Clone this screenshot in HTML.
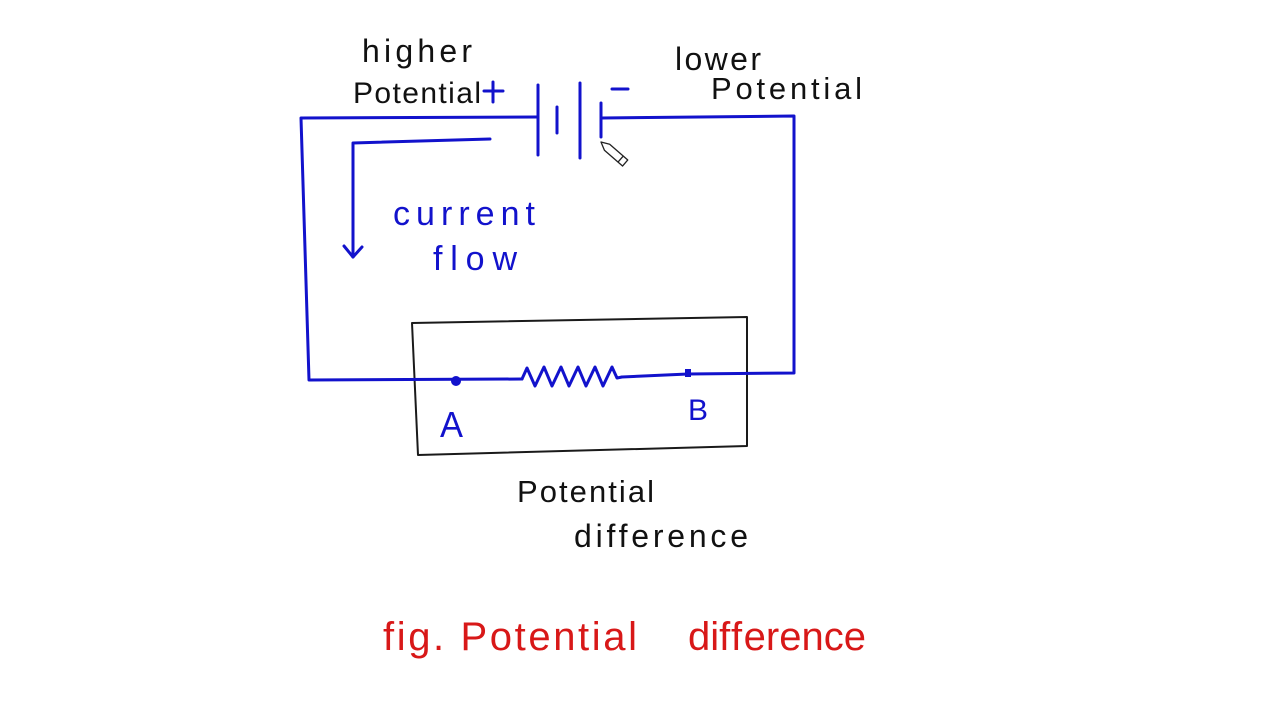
<!DOCTYPE html>
<html>
<head>
<meta charset="utf-8">
<style>
  html, body { margin: 0; padding: 0; background: #ffffff; }
  body { width: 1280px; height: 720px; overflow: hidden; }
  svg { display: block; }
  text { font-family: "Liberation Sans", "DejaVu Sans", sans-serif; font-variant-ligatures: none; font-feature-settings: "liga" 0, "clig" 0; }
</style>
</head>
<body>
<svg width="1280" height="720" viewBox="0 0 1280 720" xmlns="http://www.w3.org/2000/svg">
  <rect x="0" y="0" width="1280" height="720" fill="#ffffff"/>

  <!-- Box around resistor -->
  <polygon points="412,323 747,317 747,446 418,455" fill="none" stroke="#1a1a1a" stroke-width="2" stroke-linejoin="round"/>

  <!-- Circuit wires -->
  <g fill="none" stroke="#1212cc" stroke-width="3" stroke-linecap="round" stroke-linejoin="round">
    <polyline points="538,117 301,118 309,380 522,379"/>
    <path d="M522,379 L527,368 L535,386 L544,367 L552,386 L561,367 L569,386 L578,367 L586,386 L595,367 L603,386 L612,367 L617,378 L622,377"/>
    <polyline points="622,377 688,374 794,373 794,116 602,118"/>
    <line x1="538" y1="85" x2="538" y2="155"/>
    <line x1="557" y1="107" x2="557" y2="133"/>
    <line x1="580" y1="83" x2="580" y2="158"/>
    <line x1="601" y1="103" x2="601" y2="137"/>
    <line x1="612" y1="89" x2="628" y2="89"/>
    <line x1="484" y1="91" x2="503" y2="91"/>
    <line x1="493" y1="82" x2="493" y2="102"/>
    <polyline points="490,139 353,143 353,257"/>
    <polyline points="344,246 353,257 362,247"/>
  </g>

  <circle cx="456" cy="381" r="5" fill="#1212cc"/>
  <rect x="685" y="369" width="6" height="8" fill="#1212cc"/>

  <!-- pencil cursor -->
  <g transform="translate(601,142) rotate(41)">
    <polygon points="0,0 8,-4 32,-4 32,4 8,4" fill="#ffffff" stroke="#222" stroke-width="1.3" stroke-linejoin="round"/>
    <line x1="26" y1="-4" x2="26" y2="4" stroke="#222" stroke-width="1.3"/>
  </g>

  <!-- Black labels -->
  <g fill="#111111">
    <text x="362" y="62" font-size="32" textLength="110" lengthAdjust="spacing">higher</text>
    <text x="353" y="103" font-size="30" textLength="128" lengthAdjust="spacing">Potential</text>
    <text x="675" y="70" font-size="32" textLength="86" lengthAdjust="spacing">lower</text>
    <text x="711" y="99" font-size="31" textLength="151" lengthAdjust="spacing">Potential</text>
    <text x="517" y="502" font-size="31" textLength="137" lengthAdjust="spacing">Potential</text>
    <text x="574" y="547" font-size="32" textLength="174" lengthAdjust="spacing">difference</text>
  </g>

  <!-- Blue labels -->
  <g fill="#1212cc">
    <text x="393" y="225" font-size="34" textLength="142" lengthAdjust="spacing">current</text>
    <text x="433" y="270" font-size="34" textLength="84" lengthAdjust="spacing">flow</text>
    <text x="440" y="437" font-size="36" textLength="23" lengthAdjust="spacingAndGlyphs">A</text>
    <text x="688" y="420" font-size="30" textLength="20" lengthAdjust="spacingAndGlyphs">B</text>
  </g>

  <!-- Red caption -->
  <g fill="#d81818">
    <text x="383" y="650" font-size="40" textLength="254" lengthAdjust="spacing">fig. Potential</text>
    <text x="688" y="650" font-size="40"><tspan>dif</tspan><tspan dx="1.5">f</tspan><tspan dx="1.5">erence</tspan></text>
  </g>
</svg>
</body>
</html>
